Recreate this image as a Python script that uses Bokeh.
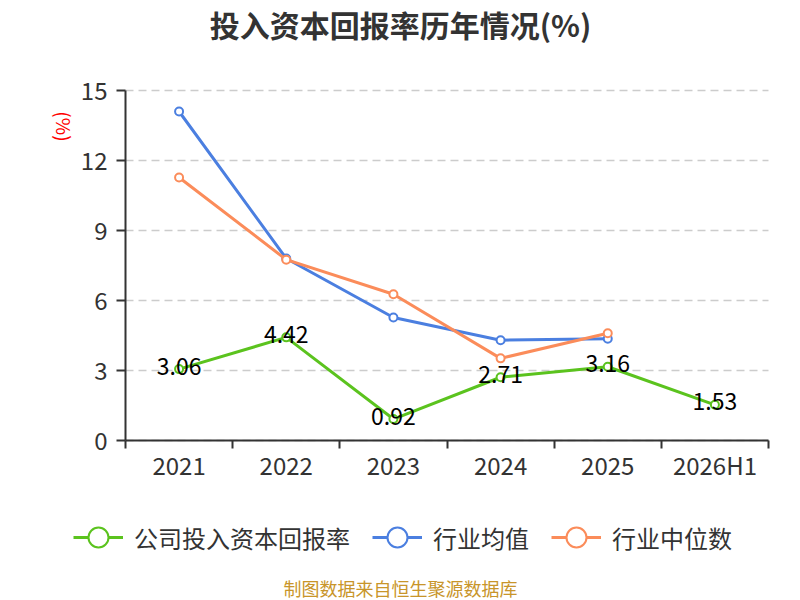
import math
from bokeh.plotting import figure
from bokeh.models import (Range1d, FixedTicker, Legend, LegendItem, Label, LinearAxis,
                          Grid, ColumnDataSource, LabelSet)
from bokeh.core.properties import value
from bokeh.embed import file_html
from bokeh.resources import INLINE

categories = ["2021", "2022", "2023", "2024", "2025", "2026H1"]
company = [3.06, 4.42, 0.92, 2.71, 3.16, 1.53]
ind_avg = [14.10, 7.80, 5.27, 4.30, 4.36]
ind_med = [11.27, 7.75, 6.27, 3.52, 4.60]
y_ticks = [0, 3, 6, 9, 12, 15]

FONT = "Noto Sans CJK SC"
GREEN = "#5bc31e"
BLUE = "#4b7fe0"
ORANGE = "#fb8c5a"
AXIS = "#333333"

W, H = 800, 600
# plot-area placement in canvas pixels
PL, PR, PT, PB = 125, 768, 90, 440
n = len(categories)
ymax = 15
xs = (PR - PL) / n          # px per x unit
ys = (PB - PT) / ymax       # px per y unit


def px_to_x(px):
    return (px - PL) / xs


def px_to_y(py):
    return (PB - py) / ys


xc = [i + 0.5 for i in range(n)]

p = figure(width=W, height=H, output_backend="svg", toolbar_location=None,
           x_axis_type=None, y_axis_type=None,
           x_range=Range1d(px_to_x(0), px_to_x(W)),
           y_range=Range1d(px_to_y(H), px_to_y(0)),
           min_border=0)
p.outline_line_color = None
p.background_fill_color = "white"
p.border_fill_color = "white"
p.xgrid.visible = False
p.ygrid.visible = False

yticker = FixedTicker(ticks=y_ticks, minor_ticks=[])
grid = Grid(dimension=1, ticker=yticker, cross_bounds=(0, n),
            grid_line_color="#cccccc", grid_line_dash="8 5", grid_line_width=1.5)
p.add_layout(grid)

xaxis = LinearAxis(fixed_location=0, bounds=(0, n),
                   ticker=FixedTicker(ticks=xc, minor_ticks=list(range(n + 1))),
                   major_label_overrides={x: c for x, c in zip(xc, categories)},
                   major_tick_line_color=None,
                   minor_tick_line_color=AXIS, minor_tick_line_width=2,
                   minor_tick_out=8, minor_tick_in=0,
                   axis_line_color=AXIS, axis_line_width=2,
                   major_label_text_font=FONT, major_label_text_font_size="24px",
                   major_label_text_color=AXIS, major_label_standoff=-2)
p.add_layout(xaxis, "below")

yaxis = LinearAxis(fixed_location=0, bounds=(0, ymax), ticker=yticker,
                   major_tick_line_color=AXIS, major_tick_line_width=2,
                   major_tick_out=9, major_tick_in=0,
                   axis_line_color=AXIS, axis_line_width=2,
                   major_label_text_font=FONT, major_label_text_font_size="24px",
                   major_label_text_color=AXIS, major_label_standoff=9)
p.add_layout(yaxis, "left")

# series
l1 = p.line(xc, company, line_color=GREEN, line_width=3)
s1 = p.scatter(xc, company, size=8, marker="circle", fill_color="white",
               line_color=GREEN, line_width=2)
l2 = p.line(xc[:len(ind_avg)], ind_avg, line_color=BLUE, line_width=3)
s2 = p.scatter(xc[:len(ind_avg)], ind_avg, size=8, marker="circle", fill_color="white",
               line_color=BLUE, line_width=2)
l3 = p.line(xc[:len(ind_med)], ind_med, line_color=ORANGE, line_width=3)
s3 = p.scatter(xc[:len(ind_med)], ind_med, size=8, marker="circle", fill_color="white",
               line_color=ORANGE, line_width=2)

src = ColumnDataSource(dict(x=xc, y=company, t=[f"{v:.2f}" for v in company]))
labels = LabelSet(x="x", y="y", text="t", source=src, text_align="center",
                  text_baseline="middle", y_offset=3, text_font=value(FONT),
                  text_font_size="23px", text_color="#000000")
p.add_layout(labels)

GH = 54  # legend glyph box height (sets marker size in the legend)
legend = Legend(items=[
    LegendItem(label="公司投入资本回报率", renderers=[l1, s1]),
    LegendItem(label="行业均值", renderers=[l2, s2]),
    LegendItem(label="行业中位数", renderers=[l3, s3]),
], orientation="horizontal", location=(73, H - 537 - GH // 2),
    label_text_font=FONT, label_text_font_size="24px", label_text_color=AXIS,
    glyph_width=50, glyph_height=GH, spacing=22, label_standoff=11,
    label_height=GH,
    border_line_color=None, background_fill_alpha=0, margin=0, padding=0)
p.add_layout(legend)

# title
p.add_layout(Label(x=px_to_x(400), y=px_to_y(23), text="投入资本回报率历年情况(%)",
                   text_align="center", text_baseline="middle",
                   text_color=AXIS, text_font=FONT, text_font_size="30px",
                   text_font_style="bold"))

# y-axis unit label
p.add_layout(Label(x=px_to_x(64), y=px_to_y(126), text="(%)", angle=-math.pi / 2,
                   text_align="center", text_baseline="middle",
                   text_color="red", text_font=FONT, text_font_size="19px"))

# footer
p.add_layout(Label(x=px_to_x(400), y=px_to_y(587), text="制图数据来自恒生聚源数据库",
                   text_align="center", text_baseline="middle",
                   text_color="#c8952a", text_font=FONT, text_font_size="18px"))

open("out.html", "w").write(file_html(p, INLINE))
